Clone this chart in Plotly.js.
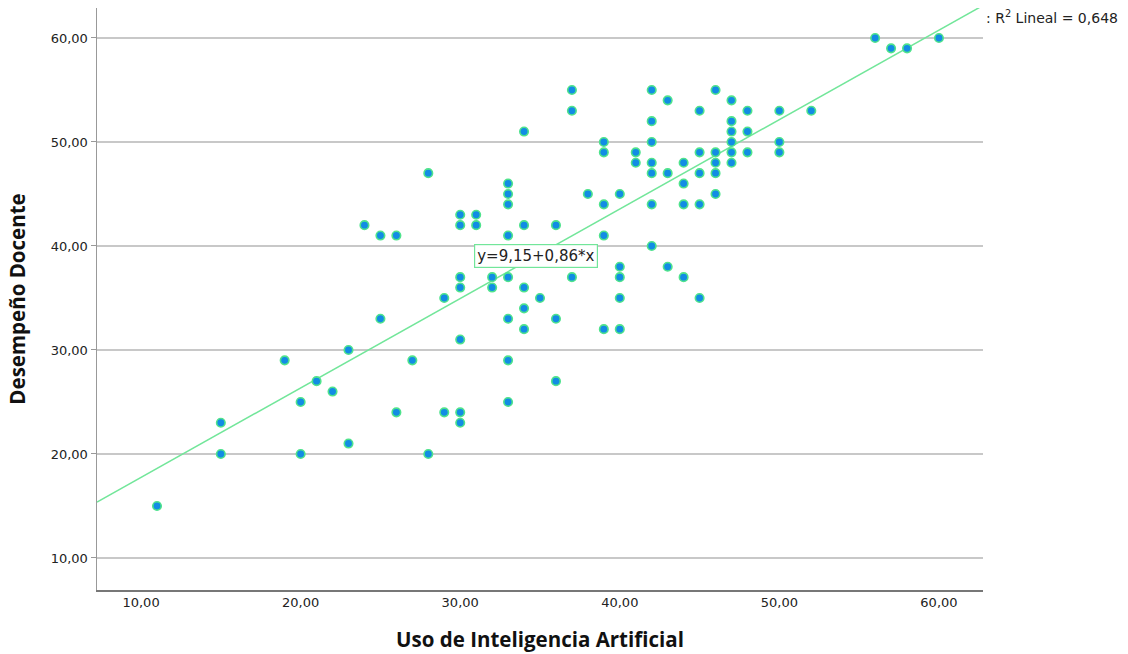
<!DOCTYPE html>
<html>
<head>
<meta charset="utf-8">
<script src="https://cdn.plot.ly/plotly-3.0.1.min.js"></script>
<style>
html,body{margin:0;padding:0;background:#fff;}
#chart{width:1128px;height:654px;}
</style>
</head>
<body>
<div id="chart"></div>
<script>
// Uso de Inteligencia Artificial (x) vs Desempeño Docente (y)
const usoIA = [
  11, 15, 15, 19, 20, 20, 21, 22, 23, 23,
  24, 25, 25, 26, 26, 27, 28, 28, 29, 29,
  30, 30, 30, 30, 30, 30, 30, 31, 31, 32, 32,
  33, 33, 33, 33, 33, 33, 33, 33,
  34, 34, 34, 34, 34, 35, 36, 36, 36,
  37, 37, 37, 38, 39, 39, 39, 39, 39,
  40, 40, 40, 40, 40, 41, 41,
  42, 42, 42, 42, 42, 42, 42, 43, 43, 43,
  44, 44, 44, 44, 45, 45, 45, 45, 45,
  46, 46, 46, 46, 46, 47, 47, 47, 47, 47, 47,
  48, 48, 48, 50, 50, 50, 52, 56, 57, 58, 60
];
const desempeno = [
  15, 23, 20, 29, 25, 20, 27, 26, 30, 21,
  42, 41, 33, 41, 24, 29, 47, 20, 35, 24,
  43, 42, 37, 36, 31, 24, 23, 43, 42, 37, 36,
  46, 45, 44, 41, 37, 33, 29, 25,
  51, 42, 36, 34, 32, 35, 42, 33, 27,
  55, 53, 37, 45, 50, 49, 44, 41, 32,
  45, 38, 37, 35, 32, 49, 48,
  55, 52, 50, 48, 47, 44, 40, 54, 47, 38,
  48, 46, 44, 37, 53, 49, 47, 44, 35,
  55, 49, 48, 47, 45, 54, 52, 51, 50, 49, 48,
  53, 51, 49, 53, 50, 49, 53, 60, 59, 59, 60
];
// Fit line reported in the chart: y = 9,15 + 0,86*x ; R² = 0,648
const intercept = 9.15;
const slope = 0.86;
const xTickVals = [10, 20, 30, 40, 50, 60];
const yTickVals = [10, 20, 30, 40, 50, 60];

const xRange = [7.24, 62.76];
const yRange = [6.92, 62.88];
const fitX = [xRange[0], xRange[1]];
const fitY = fitX.map(v => intercept + slope * v);

const traces = [
  {
    x: fitX, y: fitY, type: 'scatter', mode: 'lines',
    line: {color: '#72e69a', width: 1.5},
    hoverinfo: 'skip', showlegend: false
  },
  {
    x: usoIA, y: desempeno, type: 'scatter', mode: 'markers',
    marker: {size: 8.5, color: '#128ce4', line: {color: '#4fe38c', width: 1.6}},
    showlegend: false, cliponaxis: false
  }
];

const titleFont = {size: 20.5, color: '#111', family: 'Open Sans, sans-serif', weight: 'bold'};
const tickFont = {size: 13, color: '#222', family: 'DejaVu Sans, sans-serif'};

const layout = {
  width: 1128, height: 654,
  paper_bgcolor: '#ffffff', plot_bgcolor: '#ffffff',
  margin: {l: 97, r: 145, t: 8, b: 64},
  separators: ',.',
  font: {family: 'Open Sans, DejaVu Sans, sans-serif', color: '#222'},
  xaxis: {
    range: xRange, tickvals: xTickVals, tickformat: '.2f',
    showgrid: false, zeroline: false,
    showline: true, linecolor: '#777', linewidth: 1.5,
    ticks: '', tickfont: tickFont,
    title: {text: 'Uso de Inteligencia Artificial', font: titleFont, standoff: 23}
  },
  yaxis: {
    range: yRange, tickvals: yTickVals, tickformat: '.2f',
    showgrid: true, gridcolor: '#c8c8c8', gridwidth: 1.5,
    zeroline: false, showline: true, linecolor: '#999', linewidth: 1.5,
    ticks: 'outside', ticklen: 5, tickcolor: '#999', tickwidth: 1,
    tickfont: tickFont,
    title: {text: 'Desempeño Docente', font: titleFont, standoff: 19}
  },
  annotations: [
    {
      x: 34.75, y: 39.05, xref: 'x', yref: 'y',
      text: 'y=9,15+0,86*x', showarrow: false,
      font: {size: 15, color: '#222', family: 'DejaVu Sans, sans-serif'},
      bgcolor: '#ffffff', bordercolor: '#72e69a', borderwidth: 1.2, borderpad: 2
    },
    {
      x: 1, y: 0.985, xref: 'paper', yref: 'paper', xanchor: 'left', yanchor: 'middle', xshift: 1,
      text: ': R<sup>2</sup> Lineal = 0,648', showarrow: false,
      font: {size: 14, color: '#222', family: 'DejaVu Sans, sans-serif'}
    }
  ]
};

Plotly.newPlot('chart', traces, layout, {displayModeBar: false, staticPlot: true});
</script>
</body>
</html>
